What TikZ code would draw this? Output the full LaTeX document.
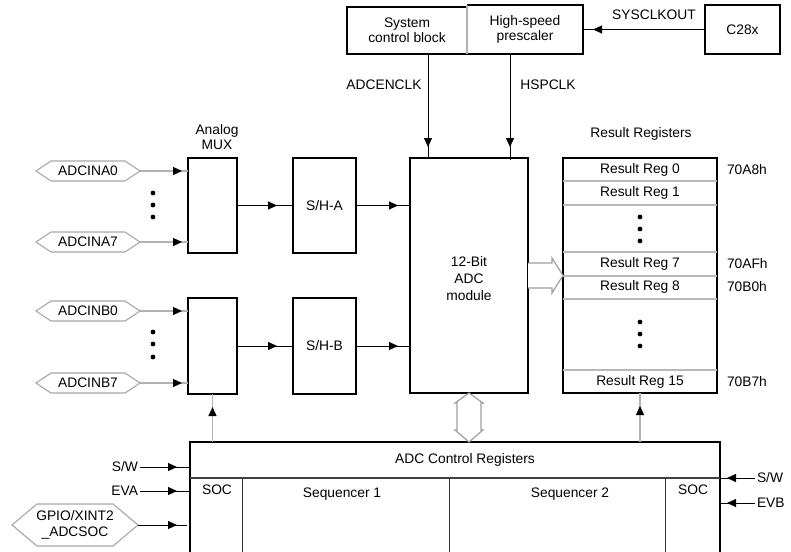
\documentclass[tikz,border=0pt]{standalone}
\usepackage{fontspec}
\setmainfont{Liberation Sans}
\usetikzlibrary{arrows.meta,decorations.markings}
\newcommand\hexpath[2]{\draw[hexs] (#1.west) -- ([xshift=#2]#1.north west) -- ([xshift=-#2]#1.north east) -- (#1.east) -- ([xshift=-#2]#1.south east) -- ([xshift=#2]#1.south west) -- cycle;}
\begin{document}
\begin{tikzpicture}[x=1pt,y=-1pt,
  font=\fontsize{13.8}{15.5}\selectfont,
  every node/.style={inner sep=0pt, outer sep=0pt, align=center},
  blk/.style={draw=black, line width=1.7pt},
  thk/.style={draw=black, line width=2.6pt},
  arrl/.style={draw=black, line width=0.9pt},
  gl/.style={draw=gray!60, line width=1.2pt},
  hexs/.style={draw=gray!70, line width=1.1pt},
  rowl/.style={draw=gray!55, line width=1.1pt},
  hol/.style={draw=gray!75, line width=1.2pt, fill=white},
  marr/.style={postaction={decorate}, decoration={markings, mark=at position #1 with {\arrow{Triangle[length=9pt,width=8pt,color=black]}}}},
  dotf/.style={fill=black}
]
\useasboundingbox (0,0) rectangle (791,551);

% top blocks
\node[minimum width=120, minimum height=47] (sys) at (407,30.5) {System\\control block};
\node[minimum width=116, minimum height=49] (pre) at (525,29.5) {High-speed\\prescaler};
\node[blk, minimum width=75, minimum height=49] (c28) at (742.5,29.5) {C28x};
\draw[thk] (sys.north east) -- (sys.north west) -- (sys.south west) -- (sys.south east);
\draw[thk] (pre.north west) -- (pre.north east) -- (pre.south east) -- (pre.south west);
\draw[gl] (sys.north east) -- (sys.south east);
\draw[gl] (pre.north west) -- (pre.south west);
\draw[arrl, marr=-10pt] (c28.west) -- (pre.east |- c28.west);
\node (sysclk) at (654,15) {SYSCLKOUT};

% ADC module
\node[blk, minimum width=118, minimum height=235] (adc) at (469,275.5) {};
\node (adct) at (469,279) {12-Bit\\[1.5pt]ADC\\[1.5pt]module};

% clocks
\coordinate (ka) at (428,0);
\coordinate (kb) at (510,0);
\draw[arrl, marr=-11pt] (sys.south -| ka) -- (adc.north -| ka);
\draw[arrl, marr=-13pt] (pre.south -| kb) -- ([yshift=-2pt]adc.north -| kb);
\node (adcenclk) at (384,85) {ADCENCLK};
\node (hspclk) at (548,85) {HSPCLK};

% Result registers
\node (rtitle) at (641,134) {Result Registers};
\node[blk, minimum width=154, minimum height=235] (res) at (640,275.5) {};
\foreach \yy in {181,205,252,276,299,370} {\draw[rowl] (res.west |- 0,\yy) -- (res.east |- 0,\yy);}
\node (r0) at (640,170) {Result Reg 0};
\node (r1) at (640,193) {Result Reg 1};
\node (r7) at (640,264) {Result Reg 7};
\node (r8) at (640,287) {Result Reg 8};
\node (r15) at (640,382) {Result Reg 15};
\foreach \yy in {217,229,241,322,334,346} {\fill[dotf] (640,\yy) circle[radius=2.4pt];}
\node[anchor=west] (a0) at (727,170) {70A8h};
\node[anchor=west] (a7) at (727,264) {70AFh};
\node[anchor=west] (a8) at (727,287) {70B0h};
\node[anchor=west] (a15) at (727,382) {70B7h};

% hollow arrow ADC -> result
\draw[hol] (adc.east) ++(0,-12.5) -- ++(24,0) -- ++(0,-5) -- (res.west) -- ++(-11,17.5) -- ++(0,-5) -- ++(-24,0);

% MUX and S/H
\node (muxl) at (217,137) {Analog\\MUX};
\node[blk, minimum width=49, minimum height=95] (muxA) at (212.5,205.5) {};
\node[blk, minimum width=63, minimum height=95] (shA) at (324.5,205.5) {S/H-A};
\node[blk, minimum width=49, minimum height=96] (muxB) at (212.5,346) {};
\node[blk, minimum width=63, minimum height=96] (shB) at (324.5,346) {S/H-B};
\draw[arrl, marr=-16pt] (muxA.east |- shA.west) -- (shA.west);
\draw[arrl, marr=-12pt] (shA.east) -- (adc.west |- shA.east);
\draw[arrl, marr=-16pt] (muxB.east |- shB.west) -- (shB.west);
\draw[arrl, marr=-12pt] (shB.east) -- (adc.west |- shB.east);

% analog inputs
\node[minimum width=104, minimum height=20] (hA0) at (88,171) {ADCINA0};
\node[minimum width=104, minimum height=20] (hA7) at (88,242) {ADCINA7};
\node[minimum width=104, minimum height=20] (hB0) at (88,311) {ADCINB0};
\node[minimum width=104, minimum height=20] (hB7) at (88,383) {ADCINB7};
\hexpath{hA0}{15}
\hexpath{hA7}{15}
\hexpath{hB0}{15}
\hexpath{hB7}{15}
\draw[gl, marr=-6pt] (hA0.east) -- (muxA.west |- hA0.east);
\draw[gl, marr=-6pt] (hA7.east) -- (muxA.west |- hA7.east);
\draw[gl, marr=-6pt] (hB0.east) -- (muxB.west |- hB0.east);
\draw[gl, marr=-6pt] (hB7.east) -- (muxB.west |- hB7.east);
\foreach \yy in {193,205,217,332,344,357} {\fill[dotf] (153,\yy) circle[radius=2.4pt];}

% control registers
\node[minimum width=530, minimum height=114] (ctrl) at (455,499) {};
\draw[blk] (ctrl.south west) -- (ctrl.north west) -- (ctrl.north east) -- (ctrl.south east);
\coordinate (dv) at (0,478);
\draw[draw=black!75, line width=1.3pt] (ctrl.west |- dv) -- (ctrl.east |- dv);
\coordinate (c1) at (242,0);
\coordinate (c2) at (449,0);
\coordinate (c3) at (665,0);
\draw[draw=black!80, line width=1pt] (c1 |- dv) -- (c1 |- ctrl.south);
\draw[draw=black!80, line width=1pt] (c2 |- dv) -- (c2 |- ctrl.south);
\draw[draw=black!80, line width=1pt] (c3 |- dv) -- (c3 |- ctrl.south);
\node (ctitle) at (465,460) {ADC Control Registers};
\node (soc1) at (217,490) {SOC};
\node (soc2) at (693,490) {SOC};
\node (seq1) at (342,494) {Sequencer 1};
\node (seq2) at (570,494) {Sequencer 2};

% vertical double arrow
\draw[hol] (adc.south) -- ++(-14,10) -- ++(2,0) -- ++(0,27) -- ++(-2,0) -- (adc.south |- ctrl.north) -- ++(14,-12) -- ++(-2,0) -- ++(0,-27) -- ++(2,0) -- cycle;

% control to mux / result
\draw[gl, marr=-13pt] (ctrl.north -| muxB.south) -- (muxB.south);
\draw[gl, marr=-13pt] (ctrl.north -| res.south) -- (res.south);

% left trigger inputs
\node[anchor=east] (sw1) at (138,467) {S/W};
\node[anchor=east] (eva) at (138,491) {EVA};
\draw[arrl, marr=-13pt] ([xshift=2pt]sw1.east) -- (ctrl.west |- sw1.east);
\draw[arrl, marr=-13pt] ([xshift=2pt]eva.east) -- (ctrl.west |- eva.east);
\node[minimum width=126, minimum height=42] (gpio) at (75,525) {GPIO/XINT2\\\_ADCSOC};
\hexpath{gpio}{25}
\coordinate (gend) at (187,525);
\draw[arrl, marr=-10pt] (gpio.east) -- (gend);

% right trigger inputs
\node[anchor=west] (sw2) at (757,478) {S/W};
\node[anchor=west] (evb) at (757,503) {EVB};
\draw[arrl, marr=-7pt] ([xshift=-2pt]sw2.west) -- (ctrl.east |- sw2.west);
\draw[arrl, marr=-7pt] ([xshift=-2pt]evb.west) -- (ctrl.east |- evb.west);
\end{tikzpicture}
\end{document}
